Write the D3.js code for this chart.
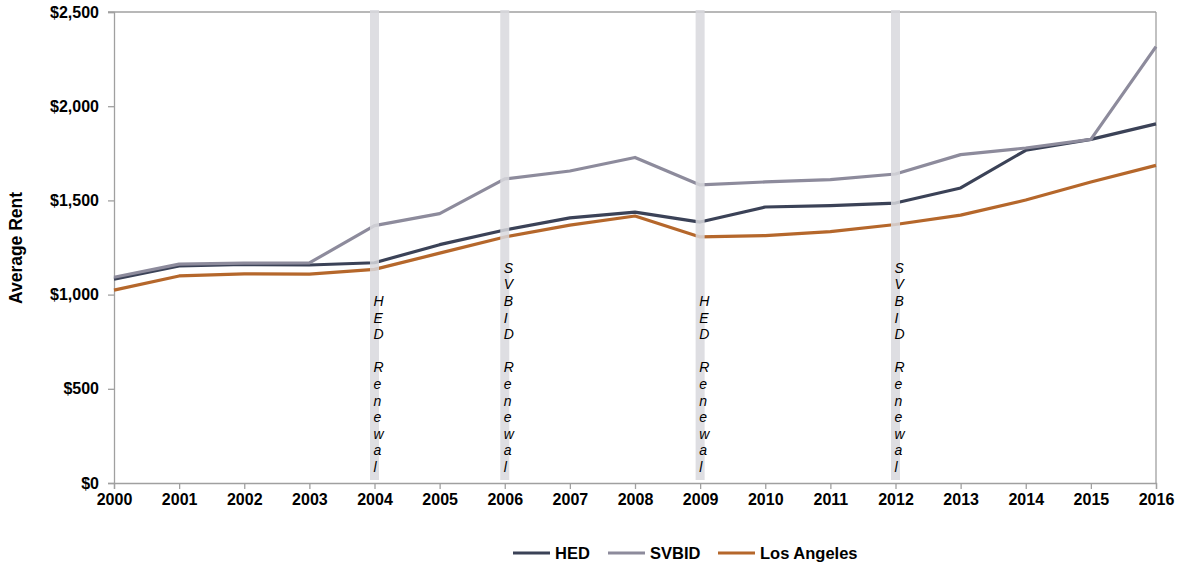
<!DOCTYPE html>
<html>
<head>
<meta charset="utf-8">
<script src="https://cdn.jsdelivr.net/npm/d3@7"></script>
<style>
  body { margin: 0; background: #fff; }
  text { font-family: "Liberation Sans", Arial, sans-serif; }
</style>
</head>
<body>
<div id="chart"></div>
<script>
const years = [2000, 2001, 2002, 2003, 2004, 2005, 2006, 2007, 2008, 2009, 2010, 2011, 2012, 2013, 2014, 2015, 2016];
const hed = [1082, 1152, 1160, 1157, 1169, 1265, 1343, 1407, 1438, 1385, 1465, 1472, 1486, 1566, 1766, 1824, 1906];
const svbid = [1092, 1162, 1167, 1168, 1366, 1430, 1614, 1656, 1728, 1582, 1598, 1610, 1640, 1743, 1778, 1824, 2316];
const la = [1024, 1099, 1110, 1109, 1134, 1220, 1306, 1369, 1417, 1306, 1313, 1334, 1372, 1422, 1502, 1598, 1686];
const yTicks = [0, 500, 1000, 1500, 2000, 2500];
const renewals = [
  { year: 2004, label: "HED Renewal" },
  { year: 2006, label: "SVBID Renewal" },
  { year: 2009, label: "HED Renewal" },
  { year: 2012, label: "SVBID Renewal" },
];
const series = [
  { name: "HED", values: hed, color: "#3b4257" },
  { name: "SVBID", values: svbid, color: "#8d8b9c" },
  { name: "Los Angeles", values: la, color: "#b5672b" },
];

const width = 1183, height = 565;
const margin = { top: 12, right: 27, bottom: 82, left: 114 };
const innerW = width - margin.left - margin.right,
  innerH = height - margin.top - margin.bottom;

const svg = d3.select("#chart").append("svg")
  .attr("width", width).attr("height", height);
const g = svg.append("g").attr("transform", `translate(${margin.left},${margin.top})`);

const x = d3.scaleLinear().domain([2000, 2016]).range([0, innerW]);
const y = d3.scaleLinear().domain([0, 2500]).range([innerH, 0]);

const axisColor = "#a0a0a0";

// frame top / right
g.append("line").attr("x1", -6).attr("x2", innerW).attr("y1", 0).attr("y2", 0)
  .attr("stroke", axisColor).attr("stroke-width", 1.3);
g.append("line").attr("x1", innerW).attr("x2", innerW).attr("y1", 0).attr("y2", innerH)
  .attr("stroke", axisColor).attr("stroke-width", 1.3);

// Axes
const yAxis = g.append("g")
  .call(d3.axisLeft(y).tickValues(yTicks).tickSize(6).tickPadding(9)
    .tickFormat(d => "$" + d3.format(",")(d)));
const xAxis = g.append("g").attr("transform", `translate(0,${innerH})`)
  .call(d3.axisBottom(x).tickValues(years).tickSize(6).tickPadding(5).tickFormat(d3.format("d")));
[yAxis, xAxis].forEach(a => {
  a.select(".domain").attr("stroke", axisColor).attr("stroke-width", 1.3);
  a.selectAll(".tick line").attr("stroke", axisColor).attr("stroke-width", 1.3);
  a.selectAll(".tick text").attr("fill", "#000").style("font-size", "16px")
    .style("font-weight", "bold").style("font-family", "Liberation Sans, Arial, sans-serif");
});

// Lines
const line = d3.line().x((d, i) => x(years[i])).y(d => y(d));
series.forEach(s => {
  g.append("path").datum(s.values)
    .attr("fill", "none").attr("stroke", s.color).attr("stroke-width", 3.2)
    .attr("stroke-linejoin", "round").attr("d", line);
});

// Renewal bars and labels
renewals.forEach(r => {
  const cx = x(r.year);
  g.append("rect").attr("x", cx - 4.5).attr("y", -2).attr("width", 9).attr("height", innerH - 1)
    .attr("fill", "#d8d8dd").attr("opacity", 0.85);
  const chars = r.label.split("");
  const lh = 16.6, bottomY = 472 - margin.top;
  const t = g.append("text").style("font-size", "14px").style("font-style", "italic")
    .attr("fill", "#000");
  chars.forEach((c, i) => {
    t.append("tspan").attr("x", cx - 1)
      .attr("y", bottomY - (chars.length - 1 - i) * lh)
      .text(c === " " ? "\u00a0" : c);
  });
});

// Y title
svg.append("text")
  .attr("transform", `translate(22,248) rotate(-90)`)
  .attr("text-anchor", "middle").style("font-size", "17.5px").style("font-weight", "bold")
  .text("Average Rent");

// Legend
const legendItems = [
  { s: series[0], x: 513 },
  { s: series[1], x: 608 },
  { s: series[2], x: 718 },
];
legendItems.forEach(li => {
  svg.append("line").attr("x1", li.x).attr("x2", li.x + 37).attr("y1", 553).attr("y2", 553)
    .attr("stroke", li.s.color).attr("stroke-width", 3.2);
  svg.append("text").attr("x", li.x + 42).attr("y", 559)
    .style("font-size", "16.5px").style("font-weight", "bold").text(li.s.name);
});
</script>
</body>
</html>
